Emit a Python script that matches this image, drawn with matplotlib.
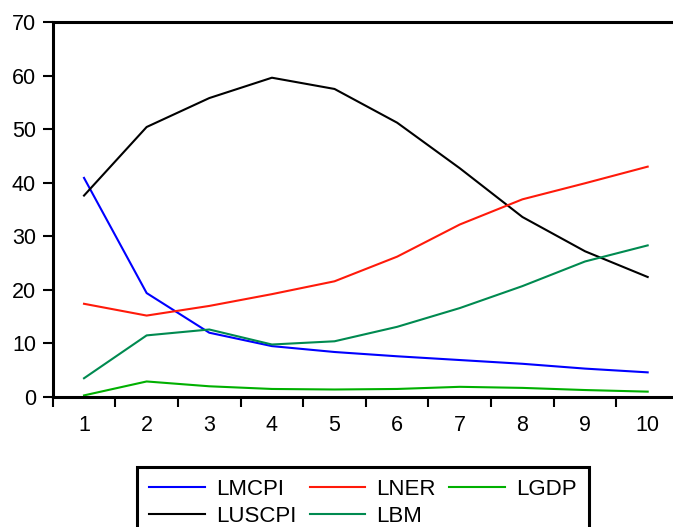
import numpy as np
import matplotlib
matplotlib.use("Agg")
import matplotlib.pyplot as plt

plt.rcParams['font.family'] = ['Liberation Sans', 'DejaVu Sans']

# periods and variance decomposition shares
periods = np.arange(1, 11)
lmcpi = [40.9, 19.4, 12.0, 9.5, 8.4, 7.6, 6.9, 6.2, 5.3, 4.6]
luscpi = [37.6, 50.4, 55.8, 59.6, 57.5, 51.2, 42.7, 33.6, 27.2, 22.4]
lner = [17.4, 15.2, 17.0, 19.2, 21.6, 26.2, 32.2, 36.9, 39.9, 43.0]
lbm = [3.5, 11.5, 12.6, 9.8, 10.4, 13.1, 16.6, 20.7, 25.3, 28.3]
lgdp = [0.3, 2.9, 2.0, 1.5, 1.4, 1.5, 1.9, 1.7, 1.3, 1.0]

fig = plt.figure(figsize=(6.73, 5.27), dpi=100)
ax = fig.add_axes([52.7 / 673, 1 - 397 / 527, (679 - 52.7) / 673, (397 - 22) / 527])

lw = 1.5
h_mcpi, = ax.plot(periods, lmcpi, color='#0000ff', lw=lw, label='LMCPI')
h_uscpi, = ax.plot(periods, luscpi, color='#000000', lw=lw, label='LUSCPI')
h_ner, = ax.plot(periods, lner, color='#ff1a0a', lw=lw, label='LNER')
h_bm, = ax.plot(periods, lbm, color='#008a50', lw=lw, label='LBM')
h_gdp, = ax.plot(periods, lgdp, color='#00b000', lw=lw, label='LGDP')

ax.set_xlim(0.5, 10.5)
ax.set_ylim(0, 70)
ax.set_yticks(np.arange(0, 71, 10))
ax.set_xticks(np.arange(0.5, 11, 1))
ax.set_xticklabels([])
ax.set_xticks(periods, minor=True)
ax.set_xticklabels([str(p) for p in periods], minor=True)

ax.tick_params(axis='x', which='major', direction='out', length=7, width=1.5)
ax.tick_params(axis='x', which='minor', length=0, pad=13, labelsize=15.5)
ax.tick_params(axis='y', direction='out', length=7, width=1.5, pad=5, labelsize=15.5)

for s in ['left', 'top', 'bottom']:
    ax.spines[s].set_linewidth(2.2)
ax.spines['right'].set_visible(False)

# column-major order so rows read LMCPI LNER LGDP / LUSCPI LBM
handles = [h_mcpi, h_uscpi, h_ner, h_bm, h_gdp]
leg = fig.legend(handles=handles, labels=[h.get_label() for h in handles],
                 loc='upper left', bbox_to_anchor=(137 / 673, 1 - 467 / 527),
                 ncol=3, fontsize=16, frameon=True, fancybox=False, framealpha=1,
                 handlelength=2.5, handletextpad=0.5, columnspacing=0.6,
                 labelspacing=0.25, borderpad=0.55, borderaxespad=0)
leg.get_frame().set_edgecolor('black')
leg.get_frame().set_linewidth(2.2)

fig.savefig('out.png', dpi=100)
